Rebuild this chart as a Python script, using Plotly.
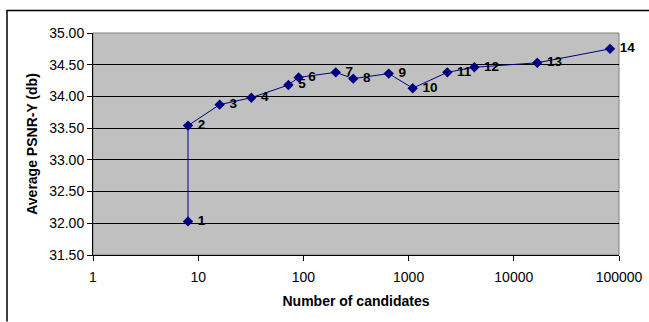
import plotly.graph_objects as go

candidates = [8, 8, 16, 32, 72, 90, 203, 298, 647, 1094, 2335, 4217, 16720, 82170]
psnr_y = [32.03, 33.54, 33.87, 33.98, 34.18, 34.30, 34.38, 34.28, 34.36, 34.13, 34.38, 34.46, 34.53, 34.75]
point_labels = [str(i) for i in range(1, 15)]
y_ticks = [31.5, 32.0, 32.5, 33.0, 33.5, 34.0, 34.5, 35.0]
x_ticks = [1, 10, 100, 1000, 10000, 100000]

FONT = "Liberation Sans, Arial, sans-serif"

fig = go.Figure()
fig.add_trace(go.Scatter(
    x=candidates, y=psnr_y,
    mode="lines+markers+text",
    text=["<b> " + t + "</b>" for t in point_labels],
    textposition="middle right",
    textfont=dict(family=FONT, size=13.5, color="black"),
    line=dict(color="#000080", width=1),
    marker=dict(symbol="diamond", size=8, color="#000080"),
    cliponaxis=False,
    showlegend=False,
))

fig.update_layout(
    width=649, height=322,
    margin=dict(l=93, r=30, t=33, b=67, autoexpand=False),
    paper_bgcolor="white",
    plot_bgcolor="#C0C0C0",
    font=dict(family=FONT, size=14, color="black"),
    xaxis=dict(
        type="log", range=[0, 5],
        tickvals=x_ticks, ticktext=[str(v) for v in x_ticks],
        showgrid=False, zeroline=False,
        showline=True, linecolor="black", linewidth=1,
        ticks="outside", ticklen=5, tickcolor="black",
        ticklabelstandoff=4,
        automargin=False,
        title=dict(text="<b>Number of candidates</b>", font=dict(size=14), standoff=12),
    ),
    yaxis=dict(
        range=[31.5, 35.0],
        tickvals=y_ticks, ticktext=["%.2f" % v for v in y_ticks],
        showgrid=True, gridcolor="black", gridwidth=1,
        zeroline=False,
        showline=True, linecolor="black", linewidth=1,
        ticks="outside", ticklen=5, tickcolor="black",
        automargin=False,
        title=dict(text="<b>Average PSNR-Y (db)</b>", font=dict(size=14), standoff=8),
    ),
    shapes=[
        dict(type="rect", xref="paper", yref="paper", x0=0, x1=1, y0=0, y1=1,
             line=dict(color="#808080", width=1), layer="below"),
        dict(type="path", xref="paper", yref="paper",
             path="M -0.1635,-0.3 L -0.1635,1.101 L 1.06,1.101",
             line=dict(color="black", width=1.5)),
    ],
)

fig.write_html("out.html", config={"displayModeBar": False},
               post_script="document.body.style.margin='0';document.body.style.overflow='hidden';")
